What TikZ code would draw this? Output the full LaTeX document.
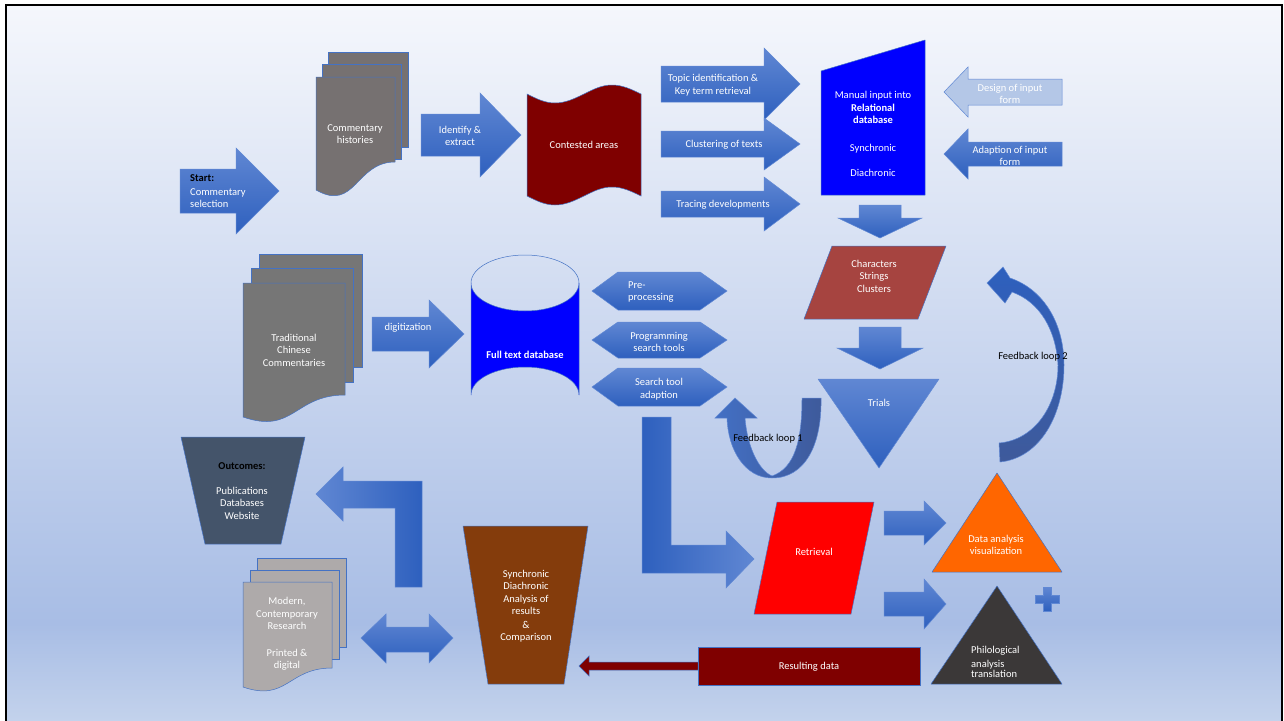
\documentclass[tikz,border=0pt]{standalone}
\usepackage{fontspec}
\setmainfont{Carlito}
\usepackage{tikz}
\usepackage{tkz-euclide}

\definecolor{arrowtop}{RGB}{96,135,211}
\definecolor{arrowbot}{RGB}{46,96,190}
\definecolor{arrowline}{RGB}{96,136,212}
\definecolor{shapeline}{RGB}{68,114,196}
\definecolor{loopdark}{RGB}{62,90,155}
\definecolor{histgray}{RGB}{118,113,113}
\definecolor{tradgray}{RGB}{118,118,118}
\definecolor{moderngray}{RGB}{174,170,170}
\definecolor{tapered}{RGB}{127,0,0}
\definecolor{pureblue}{RGB}{0,0,255}
\definecolor{brick}{RGB}{166,68,64}
\definecolor{slate}{RGB}{68,84,106}
\definecolor{rust}{RGB}{132,60,12}
\definecolor{orangefill}{RGB}{255,102,0}
\definecolor{charcoal}{RGB}{59,56,56}
\definecolor{paleblue}{RGB}{180,199,231}
\definecolor{bgtop}{RGB}{245,247,252}
\definecolor{bgmid}{RGB}{168,189,229}
\definecolor{bgbot}{RGB}{196,211,236}

\pgfdeclareverticalshading{panelfade}{100bp}{color(0bp)=(bgbot); color(25bp)=(bgbot); color(32bp)=(bgmid); color(75bp)=(bgtop); color(100bp)=(bgtop)}

\newcommand{\harrow}[7][blockarrow]{%
  \path[#1] (#2,{#5-#6}) -- (#3,{#5-#6}) -- (#3,{#5-#7}) -- (#4,#5)
    -- (#3,{#5+#7}) -- (#3,{#5+#6}) -- (#2,{#5+#6}) -- cycle;}
\newcommand{\varrow}[7][blockarrow]{%
  \path[#1] ({#5-#6},#2) -- ({#5+#6},#2) -- ({#5+#6},#3) -- ({#5+#7},#3)
    -- (#5,#4) -- ({#5-#7},#3) -- ({#5-#6},#3) -- cycle;}
\newcommand{\wavypage}[6]{%
  \path[docpage,#1] (#2,#3) -- (#4,#3) -- (#4,#5)
    .. controls ({(#2+#4)/2},#5) and ({(#2+#4)/2},{#6+0.8*(#6-#5)}) .. (#2,#6) -- cycle;}

\begin{document}
\begin{tikzpicture}[x=1pt, y=-1pt,
    blockarrow/.style={draw=arrowline, line width=0.5pt, top color=arrowtop, bottom color=arrowbot},
    palearrow/.style={draw=arrowline, line width=0.5pt, fill=paleblue},
    thinarrow/.style={draw=shapeline, line width=0.5pt, fill=tapered},
    lshaft/.style={draw=arrowline, line width=0.5pt, left color=arrowbot, right color=arrowtop},
    docpage/.style={draw=shapeline, line width=0.5pt},
    lbl/.style={text=white, font=\fontsize{10.5}{12.5}\selectfont, align=center, inner sep=0pt},
    darklbl/.style={lbl, text=black}]
                \useasboundingbox (0,0) rectangle (1284,720);
                \fill[white] (0,0) rectangle (1284,720);
                \shade[shading=panelfade] (6,5) rectangle (1282,724);
                \draw[line width=2.5pt] (6,5) rectangle (1282,724);

                \harrow{180}{236}{279}{191}{22}{43}
                \node[darklbl, anchor=west] (startlbl) at (190,178) {\textbf{Start:}};
                \node[lbl, anchor=west, align=left] (startsel) at (190,198) {Commentary\\selection};

                \path[docpage, fill=histgray] (328,52) rectangle (408,147);
                \path[docpage, fill=histgray] (322,64) rectangle (401,159);
                \wavypage{fill=histgray}{316}{77}{395}{162}{190}
                \node[lbl] (histlbl) at (355,134) {Commentary\\histories};

                \harrow{421}{480}{521}{135}{21}{42}
                \node[lbl] (identlbl) at (460,136) {Identify \&\\extract};

                \path[docpage, fill=tapered] (527,94) sin (555,103) cos (584,94) sin (612,85) cos (641,94)
                    -- (641,196) sin (612,187) cos (584,196) sin (555,205) cos (527,196) -- cycle;
                \node[lbl] (contestlbl) at (584,145) {Contested areas};

                \foreach \ym/\s/\h in {84/18/36, 144/13/26, 204/13/27}
                    {\harrow{661}{764}{800}{\ym}{\s}{\h}}
                \node[lbl] (topiclbl) at (713,85) {Topic identification \&\\Key term retrieval};
                \node[lbl] (clusterlbl) at (724,145) {Clustering of texts};
                \node[lbl] (tracelbl) at (723,205) {Tracing developments};

                \tkzDefPoints{821/71/mA, 925/40/mB, 925/195/mC, 821/195/mD}
                \tkzDrawPolygon[draw=shapeline, line width=0.5pt, fill=pureblue](mA,mB,mC,mD)
                \node[lbl] (manuallbl) at (873,134) {Manual input into\\\textbf{Relational}\\\textbf{database}\\[15pt]Synchronic\\[13pt]Diachronic};

                \harrow[palearrow]{1062}{968}{944}{92}{13}{25}
                \harrow{1062}{968}{944}{154}{12}{25}
                \node[lbl] (designlbl) at (1010,94) {Design of input\\form};
                \node[lbl] (adaptlbl) at (1010,156) {Adaption of input\\form};

                \varrow{205}{218}{238}{880}{21}{42}
                \varrow{327}{348}{369}{880}{21}{43}

                \tkzDefPoints{832/246/cA, 946/246/cB, 918/319/cC, 804/319/cD}
                \tkzDrawPolygon[draw=shapeline, line width=0.5pt, fill=brick](cA,cB,cC,cD)
                \node[lbl] (charlbl) at (874,276) {Characters\\Strings\\Clusters};

                \tkzDefPoints{818/379/tA, 939/379/tB, 879/468/tC}
                \tkzDrawPolygon[draw=arrowline, line width=0.5pt, top color=arrowtop, bottom color=arrowbot](tA,tB,tC)
                \node[lbl] (trialslbl) at (879,403) {Trials};

                \path[draw=arrowline, line width=0.5pt, top color=arrowbot, bottom color=loopdark]
                    (999,443) .. controls (1035,440) and (1058,405) .. (1058,365)
                    .. controls (1056,330) and (1040,302) .. (1012,292) -- (1005,303) -- (987,283) -- (1003,267)
                    -- (1010,278) .. controls (1045,290) and (1064,325) .. (1064,365)
                    .. controls (1064,415) and (1040,458) .. (1000,462) -- cycle;
                \node[darklbl] (loopb) at (1033,357) {Feedback loop 2};

                \path[draw=arrowline, line width=0.5pt, left color=arrowbot!90!white, right color=loopdark]
                    (802,398) -- (821,398) .. controls (822,445) and (805,478) .. (772,478)
                    .. controls (745,478) and (728,450) .. (727,418) -- (715,418) -- (735,398) -- (757,418)
                    -- (745,418) .. controls (747,445) and (758,470) .. (772,476)
                    .. controls (795,468) and (802,440) .. (802,398) -- cycle;
                \node[darklbl] (loopa) at (768,439) {Feedback loop 1};

                \path[docpage, fill=tradgray] (259,254) rectangle (362,367);
                \path[docpage, fill=tradgray] (251,268) rectangle (353,382);
                \wavypage{fill=tradgray}{243}{283}{345}{395}{417}
                \node[lbl] (tradlbl) at (294,350) {Traditional\\Chinese\\Commentaries};

                \harrow{372}{429}{464}{334}{17}{34}
                \node[lbl] (digitlbl) at (408,328) {digitization};

                \path[draw=shapeline, line width=0.5pt, fill=pureblue] (471,283) -- (471,395)
                    arc[start angle=180, end angle=360, x radius=54, y radius=28] -- (579,283)
                    arc[start angle=0, end angle=180, x radius=54, y radius=28] -- cycle;
                \draw[shapeline, line width=0.5pt] (471,283) arc[start angle=180, end angle=360, x radius=54, y radius=28];
                \node[lbl] (fulldblbl) at (525,355) {\textbf{Full text database}};

                \foreach \ym/\hh in {291/19, 340/18, 387/19}
                    {\path[blockarrow] (592,\ym) -- (618,{\ym-\hh}) -- (700,{\ym-\hh}) -- (727,\ym)
                        -- (700,{\ym+\hh}) -- (618,{\ym+\hh}) -- cycle;}
                \node[lbl, anchor=west, align=left] (prelbl) at (628,292) {Pre-\\processing};
                \node[lbl] (proglbl) at (659,342) {Programming\\search tools};
                \node[lbl] (searchlbl) at (659,389) {Search tool\\adaption};

                \path[lshaft] (642,417) -- (671,417) -- (671,545) -- (726,545) -- (726,531) -- (754,559)
                    -- (726,588) -- (726,573) -- (642,573) -- cycle;

                \tkzDefPoints{181/437/oA, 305/437/oB, 281/544/oC, 205/544/oD}
                \tkzDrawPolygon[draw=shapeline, line width=0.5pt, fill=slate](oA,oB,oC,oD)
                \node[darklbl] (outhead) at (242,466) {\textbf{Outcomes:}};
                \node[lbl] (outlbl) at (242,503) {Publications\\Databases\\Website};

                \path[lshaft, left color=arrowtop, right color=arrowbot] (422,587) -- (395,587) -- (395,508)
                    -- (343,508) -- (343,521) -- (316,494) -- (343,467) -- (343,481) -- (422,481) -- cycle;

                \path[docpage, fill=moderngray] (257,558) rectangle (346,647);
                \path[docpage, fill=moderngray] (250,570) rectangle (339,659);
                \wavypage{fill=moderngray}{243}{582}{332}{668}{687}
                \node[lbl] (modernlbl) at (287,634) {Modern,\\Contemporary\\Research\\[14pt]Printed \&\\digital};

                \path[blockarrow] (361,638) -- (386,614) -- (386,627) -- (429,627) -- (429,614) -- (453,638)
                    -- (429,663) -- (429,652) -- (386,652) -- (386,663) -- cycle;

                \tkzDefPoints{463/526/sA, 588/526/sB, 564/684/sC, 488/684/sD}
                \tkzDrawPolygon[draw=shapeline, line width=0.5pt, fill=rust](sA,sB,sC,sD)
                \node[lbl] (synclbl) at (526,606) {Synchronic\\Diachronic\\Analysis of\\results\\[1pt]\&\\Comparison};

                \harrow[thinarrow]{698}{589}{579}{666}{4}{10}
                \path[draw=shapeline, line width=0.5pt, fill=tapered] (698,647) rectangle (920,685);
                \node[lbl] (resultlbl) at (809,667) {Resulting data};

                \tkzDefPoints{777/502/rA, 874/502/rB, 851/614/rC, 754/614/rD}
                \tkzDrawPolygon[draw=shapeline, line width=0.5pt, fill=red](rA,rB,rC,rD)
                \node[lbl] (retrlbl) at (814,552) {Retrieval};

                \harrow{884}{924}{946}{523}{12}{22}
                \harrow{884}{924}{946}{604}{12}{25}

                \tkzDefPoints{997/473/dA, 1062/572/dB, 932/572/dC}
                \tkzDrawPolygon[draw=shapeline, line width=0.5pt, fill=orangefill](dA,dB,dC)
                \node[lbl] (datalbl) at (996,545) {Data analysis\\visualization};

                \tkzDefPoints{997/586/pA, 1062/684/pB, 931/684/pC}
                \tkzDrawPolygon[draw=shapeline, line width=0.5pt, fill=charcoal](pA,pB,pC)
                \node[lbl, anchor=west, align=left] (philolbl) at (971,662) {Philological\\[1pt]analysis\\[-2pt]translation};

                \path[blockarrow] (1043,587) -- (1051,587) -- (1051,595) -- (1059,595) -- (1059,603) -- (1051,603)
                    -- (1051,611) -- (1043,611) -- (1043,603) -- (1035,603) -- (1035,595) -- (1043,595) -- cycle;
\end{tikzpicture}
\end{document}
